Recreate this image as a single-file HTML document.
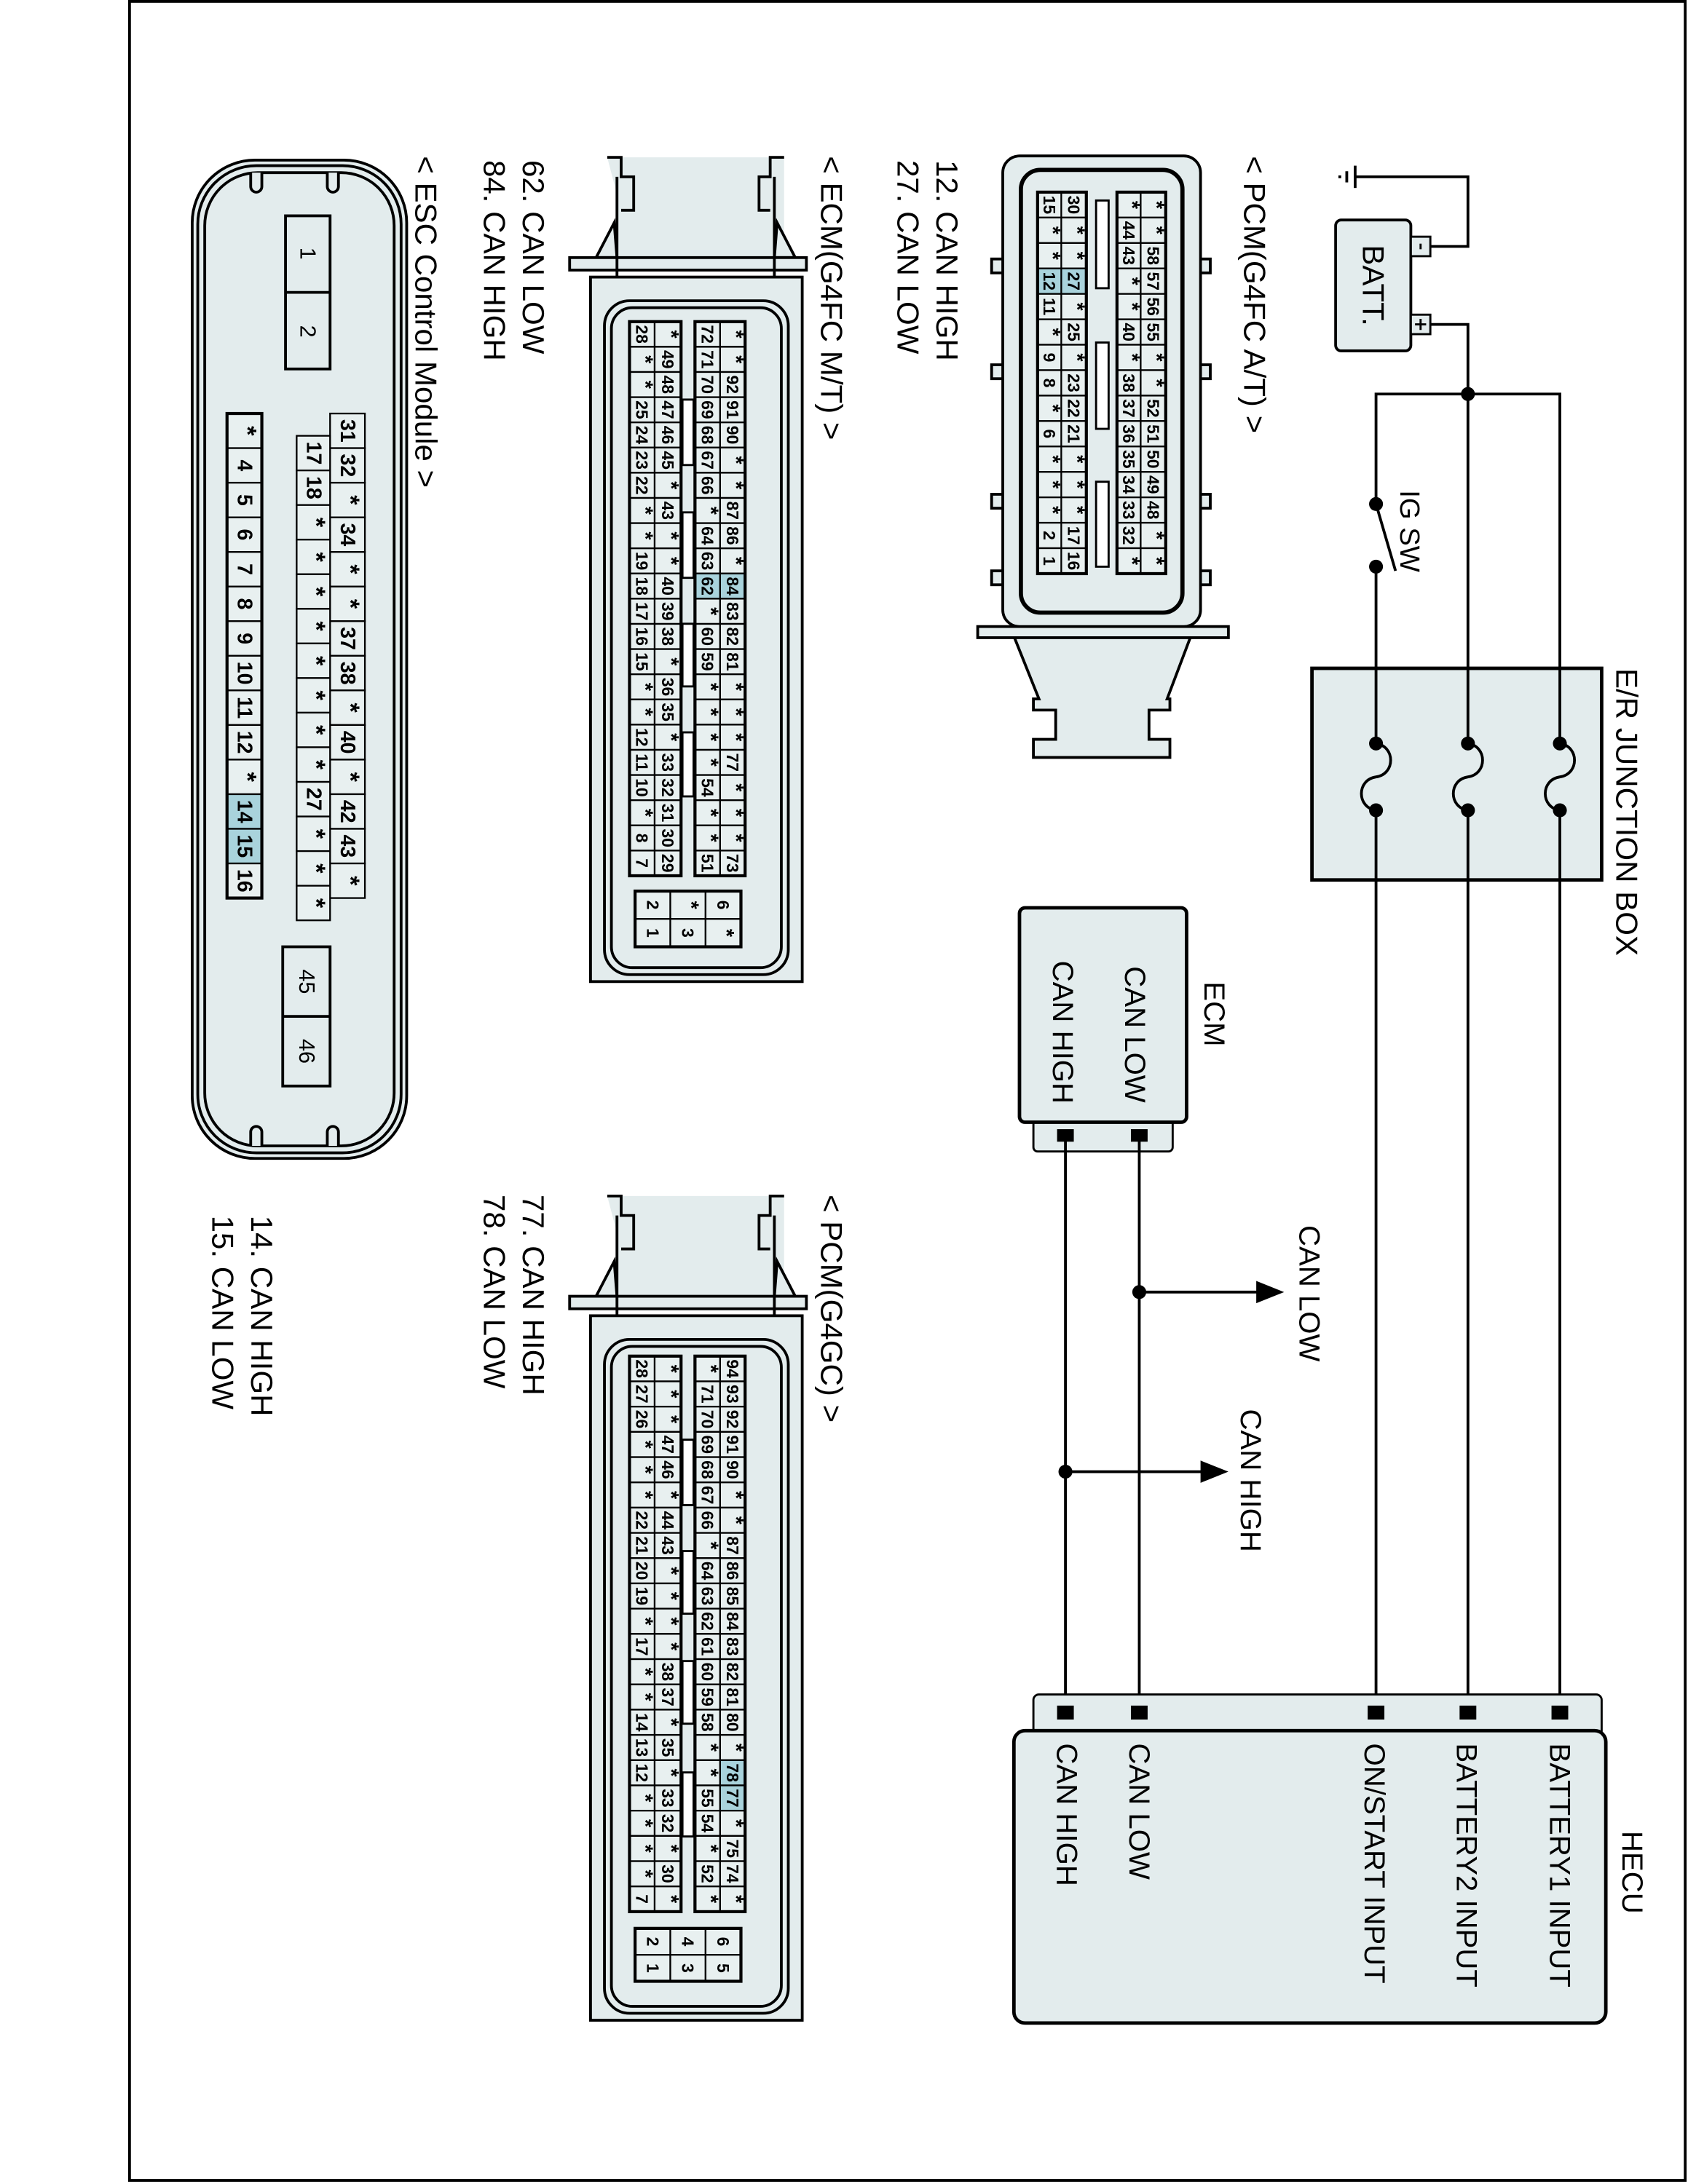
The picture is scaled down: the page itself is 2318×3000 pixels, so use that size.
<!DOCTYPE html>
<html><head><meta charset="utf-8"><style>
html,body{margin:0;padding:0;background:#fff;}
svg{display:block;}
text{font-family:"Liberation Sans",Arial,sans-serif;fill:#000;}
</style></head><body>
<svg id="s" xmlns="http://www.w3.org/2000/svg" width="2318" height="3000" viewBox="0 0 1212 1568.6">
<rect x="0" y="0" width="1212" height="1569" fill="#fff"/>
<rect x="93" y="1" width="1117" height="1565" fill="none" stroke="#000" stroke-width="2"/>

<g fill="none" stroke="#000" stroke-width="2">
<path d="M973,127 H1054 V177 H1027"/>
<line x1="973" y1="119" x2="973" y2="135"/>
<line x1="967" y1="123" x2="967" y2="131"/>
<line x1="962" y1="126" x2="962" y2="128"/>
<path d="M1027,233 H1054 V283"/>
<path d="M988,1228 V283 H1120 V1228"/>
<line x1="1054" y1="283" x2="1054" y2="1228"/>
</g>
<rect x="959" y="158" width="54" height="94" rx="4" fill="#e3eced" stroke="#000" stroke-width="2"/>
<rect x="1013" y="170" width="14" height="14" fill="#e3eced" stroke="#000" stroke-width="1.5"/>
<rect x="1013" y="226" width="14" height="14" fill="#e3eced" stroke="#000" stroke-width="1.5"/>
<line x1="1020" y1="175" x2="1020" y2="179" stroke="#000" stroke-width="1.5"/>
<path d="M1016,233 H1024 M1020,229 V237" stroke="#000" stroke-width="1.5"/>
<text transform="translate(986,205) rotate(90)" text-anchor="middle" dominant-baseline="central" font-size="22">BATT.</text>
<circle cx="1054" cy="283" r="5"/>
<rect x="982" y="364" width="12" height="42" fill="#fff"/>
<circle cx="988" cy="362" r="5"/><circle cx="988" cy="407" r="5"/>
<line x1="988" y1="362" x2="1002" y2="410" stroke="#000" stroke-width="2"/>
<text transform="translate(1012,352) rotate(90)" dominant-baseline="central" font-size="20">IG SW</text>

<rect x="942" y="480" width="208" height="152" fill="#e3eced" stroke="#000" stroke-width="2.5"/>
<g stroke="#000" stroke-width="2" fill="none">
<line x1="988" y1="480" x2="988" y2="534"/><line x1="1054" y1="480" x2="1054" y2="534"/><line x1="1120" y1="480" x2="1120" y2="534"/>
<line x1="988" y1="582" x2="988" y2="632"/><line x1="1054" y1="582" x2="1054" y2="632"/><line x1="1120" y1="582" x2="1120" y2="632"/>
<path d="M988,534 C1002,536 1002,556 988,558 C974,560 974,580 988,582"/>
<path d="M1054,534 C1068,536 1068,556 1054,558 C1040,560 1040,580 1054,582"/>
<path d="M1120,534 C1134,536 1134,556 1120,558 C1106,560 1106,580 1120,582"/>
</g>
<circle cx="988" cy="534" r="5"/><circle cx="988" cy="582" r="5"/>
<circle cx="1054" cy="534" r="5"/><circle cx="1054" cy="582" r="5"/>
<circle cx="1120" cy="534" r="5"/><circle cx="1120" cy="582" r="5"/>
<text transform="translate(1168,480) rotate(90)" dominant-baseline="central" font-size="22">E/R JUNCTION BOX</text>

<rect x="742" y="800" width="100" height="27" rx="3" fill="#e3eced" stroke="#000" stroke-width="1.5"/>
<rect x="732" y="652" width="120" height="154" rx="4" fill="#e3eced" stroke="#000" stroke-width="2.5"/>
<text transform="translate(872,705) rotate(90)" dominant-baseline="central" font-size="21">ECM</text>
<text transform="translate(815,694) rotate(90)" dominant-baseline="central" font-size="21">CAN LOW</text>
<text transform="translate(763,690) rotate(90)" dominant-baseline="central" font-size="21">CAN HIGH</text>
<g stroke="#000" stroke-width="2">
<line x1="818" y1="815" x2="818" y2="1228"/><line x1="765" y1="815" x2="765" y2="1228"/>
<line x1="818" y1="928" x2="905" y2="928"/><line x1="765" y1="1057" x2="865" y2="1057"/>
</g>
<rect x="812" y="811" width="12" height="9"/><rect x="759" y="811" width="12" height="9"/>
<circle cx="818" cy="928" r="5"/><circle cx="765" cy="1057" r="5"/>
<path d="M902,920 L922,928 L902,936Z"/><path d="M862,1049 L882,1057 L862,1065Z"/>
<text transform="translate(940,880) rotate(90)" dominant-baseline="central" font-size="21">CAN LOW</text>
<text transform="translate(898,1012) rotate(90)" dominant-baseline="central" font-size="21">CAN HIGH</text>

<rect x="742" y="1217" width="408" height="30" rx="4" fill="#e3eced" stroke="#000" stroke-width="1.5"/>
<rect x="728" y="1243" width="425" height="210" rx="8" fill="#e3eced" stroke="#000" stroke-width="2.5"/>
<rect x="1114" y="1225" width="12" height="10"/><rect x="1048" y="1225" width="12" height="10"/><rect x="982" y="1225" width="12" height="10"/><rect x="812" y="1225" width="12" height="10"/><rect x="759" y="1225" width="12" height="10"/>
<text transform="translate(1172,1315) rotate(90)" dominant-baseline="central" font-size="21">HECU</text>
<text transform="translate(1120,1252) rotate(90)" dominant-baseline="central" font-size="21">BATTERY1 INPUT</text>
<text transform="translate(1053,1252) rotate(90)" dominant-baseline="central" font-size="21">BATTERY2 INPUT</text>
<text transform="translate(987,1252) rotate(90)" dominant-baseline="central" font-size="21">ON/START INPUT</text>
<text transform="translate(818,1252) rotate(90)" dominant-baseline="central" font-size="21">CAN LOW</text>
<text transform="translate(766,1252) rotate(90)" dominant-baseline="central" font-size="21">CAN HIGH</text>

<text transform="translate(901,112) rotate(90)" dominant-baseline="central" font-size="22">&lt; PCM(G4FC A/T) &gt;</text>
<text transform="translate(680,115) rotate(90)" dominant-baseline="central" font-size="22">12. CAN HIGH</text>
<text transform="translate(652,115) rotate(90)" dominant-baseline="central" font-size="22">27. CAN LOW</text>
<g stroke="#000" stroke-width="2" fill="#e3eced">
<path d="M728,457 L746,502 H742 V510 H758 V531 H742 V544 H840 V531 H825 V510 H840 V502 H838 L855,457Z"/>
<rect x="702" y="450" width="180" height="8"/>
<rect x="712" y="186" width="10" height="10"/><rect x="712" y="262" width="10" height="10"/><rect x="712" y="355" width="10" height="10"/><rect x="712" y="410" width="10" height="10"/>
<rect x="861" y="186" width="8" height="10"/><rect x="861" y="262" width="8" height="10"/><rect x="861" y="355" width="8" height="10"/><rect x="861" y="410" width="8" height="10"/>
<rect x="720" y="112" width="142" height="338" rx="12"/>
<rect x="733" y="122" width="116" height="318" rx="14" stroke-width="3"/>
</g>

<text transform="translate(597,112) rotate(90)" dominant-baseline="central" font-size="22">&lt; ECM(G4FC M/T) &gt;</text>
<text transform="translate(383,115) rotate(90)" dominant-baseline="central" font-size="22">62. CAN LOW</text>
<text transform="translate(355,115) rotate(90)" dominant-baseline="central" font-size="22">84. CAN HIGH</text>
<g stroke="#000" stroke-width="2" fill="#e3eced">
<rect x="443" y="113" width="120" height="82" stroke="none"/>
<path d="M436,113 H446 V127 H455 V151 H446"/>
<path d="M563,113 H553 V127 H545 V151 H553"/>
<path d="M441,160 L428,185 H443 Z"/><path d="M558,160 L571,185 H556 Z"/>
<rect x="409" y="185" width="170" height="9"/>
<line x1="443" y1="127" x2="443" y2="199"/><line x1="556" y1="127" x2="556" y2="199"/>
<rect x="424" y="199" width="152" height="506"/>
<rect x="434" y="216" width="132" height="484" rx="18"/>
<rect x="439" y="221" width="122" height="474" rx="15"/>
</g>

<text transform="translate(597,858) rotate(90)" dominant-baseline="central" font-size="22">&lt; PCM(G4GC) &gt;</text>
<text transform="translate(383,858) rotate(90)" dominant-baseline="central" font-size="22">77. CAN HIGH</text>
<text transform="translate(355,858) rotate(90)" dominant-baseline="central" font-size="22">78. CAN LOW</text>
<g stroke="#000" stroke-width="2" fill="#e3eced" transform="translate(0,746)">
<rect x="443" y="113" width="120" height="82" stroke="none"/>
<path d="M436,113 H446 V127 H455 V151 H446"/>
<path d="M563,113 H553 V127 H545 V151 H553"/>
<path d="M441,160 L428,185 H443 Z"/><path d="M558,160 L571,185 H556 Z"/>
<rect x="409" y="185" width="170" height="9"/>
<line x1="443" y1="127" x2="443" y2="199"/><line x1="556" y1="127" x2="556" y2="199"/>
<rect x="424" y="199" width="152" height="506"/>
<rect x="434" y="216" width="132" height="484" rx="18"/>
<rect x="439" y="221" width="122" height="474" rx="15"/>
</g>

<text transform="translate(306,112) rotate(90)" dominant-baseline="central" font-size="22">&lt; ESC Control Module &gt;</text>
<text transform="translate(188,873) rotate(90)" dominant-baseline="central" font-size="22">14. CAN HIGH</text>
<text transform="translate(160,873) rotate(90)" dominant-baseline="central" font-size="22">15. CAN LOW</text>
<g stroke="#000" stroke-width="2" fill="#e3eced">
<rect x="138" y="115" width="154" height="717" rx="45"/>
<rect x="142" y="119" width="146" height="709" rx="42"/>
<rect x="147" y="124" width="136" height="699" rx="38"/>
<path d="M180,124 V134 A4,4 0 0 0 188,134 V124"/><path d="M235,124 V134 A4,4 0 0 0 243,134 V124"/>
<path d="M180,823 V813 A4,4 0 0 1 188,813 V823"/><path d="M235,823 V813 A4,4 0 0 1 243,813 V823"/>
<rect x="205" y="155" width="32" height="110"/>
<line x1="205" y1="210" x2="237" y2="210"/>
<rect x="203" y="680" width="34" height="100"/>
<line x1="203" y1="730" x2="237" y2="730"/>
</g>
<text transform="translate(221,182) rotate(90)" text-anchor="middle" dominant-baseline="central" font-size="16">1</text>
<text transform="translate(221,238) rotate(90)" text-anchor="middle" dominant-baseline="central" font-size="16">2</text>
<text transform="translate(220,705) rotate(90)" text-anchor="middle" dominant-baseline="central" font-size="16">45</text>
<text transform="translate(220,755) rotate(90)" text-anchor="middle" dominant-baseline="central" font-size="16">46</text>

<g id="cells"></g>
</svg>
<script>
(function(){
var NS="http://www.w3.org/2000/svg",g=document.getElementById("cells");
function el(n,a,t){var e=document.createElementNS(NS,n);for(var k in a)e.setAttribute(k,a[k]);if(t!=null)e.textContent=t;g.appendChild(e);return e;}
function row(x0,w,y0,h,list,hl,fs){
 list.forEach(function(v,i){
  var y=y0+i*h;
  el("rect",{x:x0,y:y,width:w,height:h,fill:(hl.indexOf(v)>=0?"#a9d3dc":"#e8f0f0"),stroke:"#000","stroke-width":1.2});
  var star=v=="*";
  var a={transform:"translate("+(x0+w/2+(star?2:0))+","+(y+h/2)+") rotate(90)","text-anchor":"middle","dominant-baseline":"central","font-size":star?fs+3:fs,"font-weight":"bold"};
  if(!star&&v.length>1&&fs*1.15>h){a.textLength=h-0.5;a.lengthAdjust="spacingAndGlyphs";}
  el("text",a,v);
 });
}
function slots(x,w,ys){ys.forEach(function(p){el("rect",{x:x,y:p[0],width:w,height:p[1]-p[0],fill:"#fff",stroke:"#000","stroke-width":1.5});});}
function block(x,y,w,h){el("rect",{x:x,y:y,width:w,height:h,fill:"none",stroke:"#000","stroke-width":2.2});}
var h1=274/15;
row(819,18,138,h1,"* * 58 57 56 55 * * 52 51 50 49 48 * *".split(" "),[],12);
row(802,17,138,h1,"* 44 43 * * 40 * 38 37 36 35 34 33 32 *".split(" "),[],12);
row(762,18,138,h1,"30 * * 27 * 25 * 23 22 21 * * * 17 16".split(" "),["27"],12);
row(745,17,138,h1,"15 * * 12 11 * 9 8 * 6 * * * 2 1".split(" "),["12"],12);
block(802,138,35,274);block(745,138,35,274);
slots(787,9,[[144,207],[246,308],[346,407]]);
var h2=(629-231)/22;
row(517,18,231,h2,"* * 92 91 90 * * 87 86 * 84 83 82 81 * * * 77 * * * 73".split(" "),["84"],12);
row(499,18,231,h2,"72 71 70 69 68 67 66 * 64 63 62 * 60 59 * * * * 54 * * 51".split(" "),["62"],12);
row(470,19,231,h2,"* 49 48 47 46 45 * 43 * * 40 39 38 * 36 35 * 33 32 31 30 29".split(" "),[],12);
row(452,18,231,h2,"28 * * 25 24 23 22 * * 19 18 17 16 15 * * 12 11 10 * 8 7".split(" "),[],12);
block(499,231,36,398);block(452,231,37,398);
slots(490,8,[[287,334],[368,415],[448,493],[526,572]]);
[["2","1"],["*","3"],["6","*"]].forEach(function(c,i){var x=456+i*25.3;row(x,25.3,640,20,[c[0],c[1]],[],12);});
block(456,640,76,40);
var h3=(1373-974)/22;
row(517,18,974,h3,"94 93 92 91 90 * * 87 86 85 84 83 82 81 80 * 78 77 * 75 74 *".split(" "),["78","77"],12);
row(499,18,974,h3,"* 71 70 69 68 67 66 * 64 63 62 61 60 59 58 * * 55 54 * 52 *".split(" "),[],12);
row(470,19,974,h3,"* * * 47 46 * 44 43 * * * * 38 37 * 35 * 33 32 * 30 *".split(" "),[],12);
row(452,18,974,h3,"28 27 26 * * * 22 21 20 19 * 17 * * 14 13 12 * * * * 7".split(" "),[],12);
block(499,974,36,399);block(452,974,37,399);
slots(490,8,[[1034,1081],[1114,1159],[1193,1238],[1273,1319]]);
[["2","1"],["4","3"],["6","5"]].forEach(function(c,i){var x=456+i*25.3;row(x,25.3,1385,19,[c[0],c[1]],[],12);});
block(456,1385,76,38);
var h4=(645-297)/14;
row(163,25,297,h4,"* 4 5 6 7 8 9 10 11 12 * 14 15 16".split(" "),["14","15"],15);
row(237,25,297,h4,"31 32 * 34 * * 37 38 * 40 * 42 43 *".split(" "),[],15);
row(213,24,313,h4,"17 18 * * * * * * * * 27 * * *".split(" "),[],15);
block(163,297,25,348);
})();
</script>
</body></html>
